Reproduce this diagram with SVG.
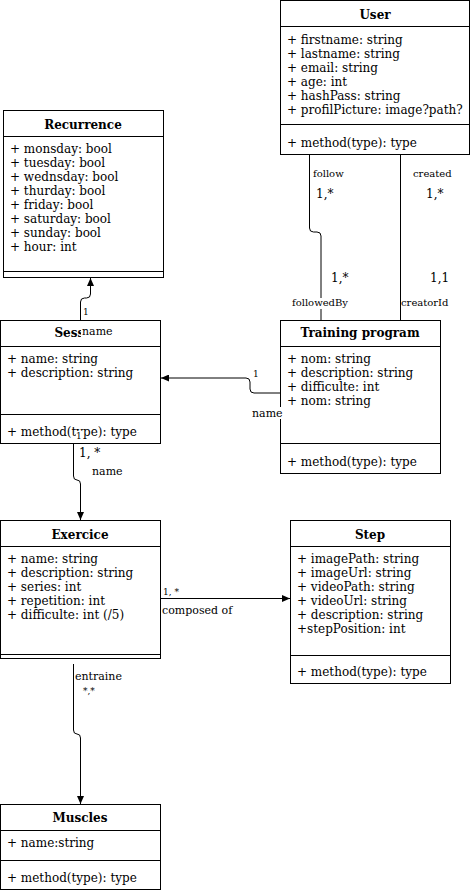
<svg xmlns="http://www.w3.org/2000/svg" width="471" height="894" viewBox="0 0 471 894">
<style>
.box{fill:#fff;stroke:#000;stroke-width:1}
.ln{fill:none;stroke:#000;stroke-width:1}
text{font-family:"DejaVu Serif","Liberation Serif",serif;fill:#000}
.t{font-size:12px}
.h{font-size:12px;font-weight:bold;text-anchor:middle}
.l{font-size:11px}
.s{font-size:10px}
.xs{font-size:9px}
.bg{fill:#fff;stroke:none}
</style>
<defs>
<marker id="arr" markerUnits="userSpaceOnUse" markerWidth="8" markerHeight="7" viewBox="0 0 8 7" refX="8" refY="3.5" orient="auto">
<path d="M0,0 L8,3.5 L0,7 z" fill="#000"/>
</marker>
</defs>
<rect width="471" height="894" fill="#fff"/>

<g id="connectors">
<path class="ln" d="M309.5 154 V228 Q309.5 232 313.5 232 H317 Q321 232 321 236 V320"/>
<path class="ln" d="M400.5 154 V320"/>
<path class="ln" d="M280 393 H254 Q250 393 250 389 V382 Q250 378 246 378 H161" marker-end="url(#arr)"/>
<path class="ln" d="M80.5 320 V302 Q80.5 298 84.5 298 H86.5 Q90.5 298 90.5 294 V278" marker-end="url(#arr)"/>
<path class="ln" d="M73.5 443 V476 Q73.5 480 77 480 Q80.5 480 80.5 484 V520" marker-end="url(#arr)"/>
<path class="ln" d="M160.5 598.5 H290" marker-end="url(#arr)"/>
<path class="ln" d="M73.5 664 V730 Q73.5 734 77 734 Q80.5 734 80.5 738 V804" marker-end="url(#arr)"/>
</g>

<g id="User">
<rect class="box" x="280.5" y="0.5" width="189" height="154"/>
<path class="ln" d="M280.5 26.5 H469.5 M280.5 124.5 H469.5"/>
<text class="h" x="375" y="19">User</text>
<text class="t" x="287" y="44">+ firstname: string</text>
<text class="t" x="287" y="58">+ lastname: string</text>
<text class="t" x="287" y="72">+ email: string</text>
<text class="t" x="287" y="86">+ age: int</text>
<text class="t" x="287" y="100">+ hashPass: string</text>
<text class="t" x="287" y="114">+ profilPicture: image?path?</text>
<text class="t" x="287" y="147">+ method(type): type</text>
</g>

<g id="Recurrence">
<rect class="box" x="3.5" y="110.5" width="160" height="167"/>
<path class="ln" d="M3.5 136.5 H163.5 M3.5 271.5 H163.5"/>
<text class="h" x="83" y="129">Recurrence</text>
<text class="t" x="10" y="153">+ monsday: bool</text>
<text class="t" x="10" y="167">+ tuesday: bool</text>
<text class="t" x="10" y="181">+ wednsday: bool</text>
<text class="t" x="10" y="195">+ thurday: bool</text>
<text class="t" x="10" y="209">+ friday: bool</text>
<text class="t" x="10" y="223">+ saturday: bool</text>
<text class="t" x="10" y="237">+ sunday: bool</text>
<text class="t" x="10" y="251">+ hour: int</text>
</g>

<g id="Session">
<rect class="box" x="0.5" y="320.5" width="160" height="123"/>
<path class="ln" d="M0.5 346.5 H160.5 M0.5 414.5 H160.5"/>
<text class="h" x="80" y="337">Session</text>
<text class="t" x="7" y="363">+ name: string</text>
<text class="t" x="7" y="377">+ description: string</text>
<text class="t" x="7" y="436">+ method(type): type</text>
</g>

<g id="TrainingProgram">
<rect class="box" x="280.5" y="320.5" width="160" height="153"/>
<path class="ln" d="M280.5 346.5 H440.5 M280.5 443.5 H440.5"/>
<text class="h" x="360" y="337">Training program</text>
<text class="t" x="287" y="363">+ nom: string</text>
<text class="t" x="287" y="377">+ description: string</text>
<text class="t" x="287" y="391">+ difficulte: int</text>
<text class="t" x="287" y="405">+ nom: string</text>
<text class="t" x="287" y="466">+ method(type): type</text>
</g>

<g id="Exercice">
<rect class="box" x="0.5" y="520.5" width="160" height="138"/>
<path class="ln" d="M0.5 546.5 H160.5 M0.5 654.5 H160.5"/>
<text class="h" x="80" y="539">Exercice</text>
<text class="t" x="7" y="563">+ name: string</text>
<text class="t" x="7" y="577">+ description: string</text>
<text class="t" x="7" y="591">+ series: int</text>
<text class="t" x="7" y="605">+ repetition: int</text>
<text class="t" x="7" y="619">+ difficulte: int (/5)</text>
</g>

<g id="Step">
<rect class="box" x="290.5" y="520.5" width="160" height="163"/>
<path class="ln" d="M290.5 546.5 H450.5 M290.5 655.5 H450.5"/>
<text class="h" x="370" y="539">Step</text>
<text class="t" x="297" y="563">+ imagePath: string</text>
<text class="t" x="297" y="577">+ imageUrl: string</text>
<text class="t" x="297" y="591">+ videoPath: string</text>
<text class="t" x="297" y="605">+ videoUrl: string</text>
<text class="t" x="297" y="619">+ description: string</text>
<text class="t" x="297" y="633">+stepPosition: int</text>
<text class="t" x="297" y="676">+ method(type): type</text>
</g>

<g id="Muscles">
<rect class="box" x="0.5" y="804.5" width="160" height="85"/>
<path class="ln" d="M0.5 830.5 H160.5 M0.5 860.5 H160.5"/>
<text class="h" x="80" y="822">Muscles</text>
<text class="t" x="7" y="847">+ name:string</text>
<text class="t" x="7" y="882">+ method(type): type</text>
</g>

<g id="labels">
<text class="s" x="313" y="177">follow</text>
<text class="t" x="316" y="198">1,*</text>
<text class="s" x="413" y="177">created</text>
<text class="t" x="426" y="198">1,*</text>
<text class="t" x="331" y="282">1,*</text>
<text class="t" x="430" y="282">1,1</text>
<rect class="bg" x="291" y="298" width="57" height="11"/>
<text class="s" x="292" y="306">followedBy</text>
<rect class="bg" x="401" y="298" width="48" height="11"/>
<text class="s" x="401" y="306">creatorId</text>

<text class="xs" x="253" y="377">1</text>
<rect class="bg" x="251" y="407" width="31" height="12"/>
<text class="l" x="252" y="417">name</text>

<text class="xs" x="83" y="315">1</text>
<rect class="bg" x="81" y="325" width="32" height="12"/>
<text class="l" x="82" y="335">name</text>

<rect class="bg" x="76" y="431" width="6" height="9"/>
<text class="xs" x="76" y="439">1</text>
<text class="t" x="79" y="457">1, *</text>
<text class="l" x="92" y="475">name</text>

<text class="xs" x="163" y="595">1, *</text>
<text class="l" x="162" y="614">composed of</text>

<text class="l" x="75" y="680">entraine</text>
<text class="xs" x="83" y="694">*,*</text>
</g>
</svg>
